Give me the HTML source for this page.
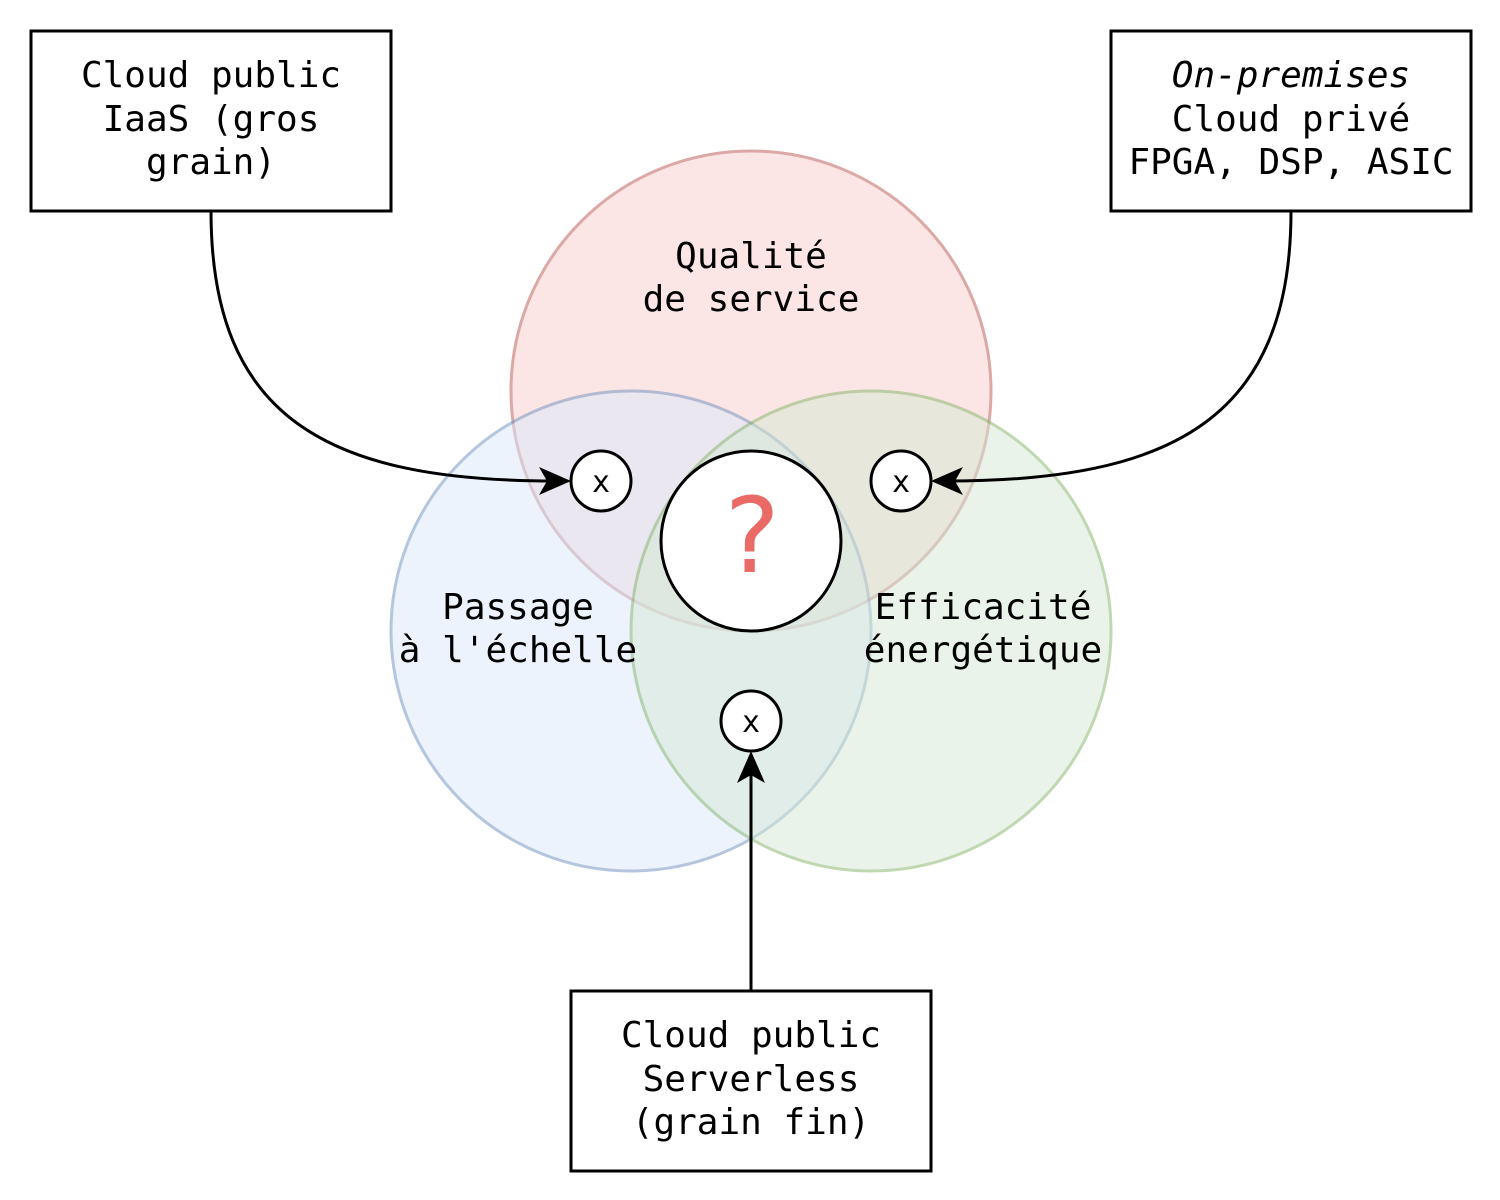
<!DOCTYPE html>
<html><head><meta charset="utf-8"><style>
html,body{margin:0;padding:0;background:#fff;}
svg{display:block;}
text{font-family:"DejaVu Sans Mono","Liberation Mono",monospace;font-size:36px;fill:#000;}
</style></head><body>
<svg width="1500" height="1200" viewBox="0 0 1500 1200" xmlns="http://www.w3.org/2000/svg">
<g stroke-width="3">
<circle cx="751" cy="391" r="240" fill="#f8cecc" stroke="#b85450" opacity="0.5"/>
<circle cx="631" cy="631" r="240" fill="#dae8fc" stroke="#6c8ebf" opacity="0.5"/>
<circle cx="871" cy="631" r="240" fill="#d5e8d4" stroke="#82b366" opacity="0.5"/>
</g>
<rect x="31" y="31" width="360" height="180" fill="#fff" stroke="#000" stroke-width="3"/>
<rect x="1111" y="31" width="360" height="180" fill="#fff" stroke="#000" stroke-width="3"/>
<rect x="571" y="991" width="360" height="180" fill="#fff" stroke="#000" stroke-width="3"/>
<g fill="none" stroke="#000" stroke-width="3">
<path d="M211 211 C211 420 330 481 555 481"/>
<path d="M1291 211 C1291 420 1170 481 947 481"/>
<path d="M751 991 L751 765"/>
</g>
<g fill="#000">
<path d="M571 481 L539 467 L547 481 L539 495 Z"/>
<path d="M931 481 L963 467 L955 481 L963 495 Z"/>
<path d="M751 751 L737 783 L751 775 L765 783 Z"/>
</g>
<g fill="#fff" stroke="#000" stroke-width="3">
<circle cx="601" cy="481" r="30"/>
<circle cx="901" cy="481" r="30"/>
<circle cx="751" cy="721" r="30"/>
<circle cx="751" cy="541" r="90"/>
</g>
<g text-anchor="middle">
<text x="601" y="492" style="font-size:30px">x</text>
<text x="901" y="492" style="font-size:30px">x</text>
<text x="751" y="732" style="font-size:30px">x</text>
<text x="751" y="572" style="font-size:104px;fill:#ea6b66">?</text>
<text x="211" y="87">Cloud public</text>
<text x="211" y="131">IaaS (gros</text>
<text x="211" y="174">grain)</text>
<text x="1291" y="87" style="font-style:italic">On-premises</text>
<text x="1291" y="131">Cloud privé</text>
<text x="1291" y="174">FPGA, DSP, ASIC</text>
<text x="751" y="1047">Cloud public</text>
<text x="751" y="1091">Serverless</text>
<text x="751" y="1134">(grain fin)</text>
<text x="751" y="268">Qualité</text>
<text x="751" y="311">de service</text>
<text x="518" y="619">Passage</text>
<text x="518" y="662">à l'échelle</text>
<text x="983" y="619">Efficacité</text>
<text x="983" y="662">énergétique</text>
</g>
</svg>
</body></html>
